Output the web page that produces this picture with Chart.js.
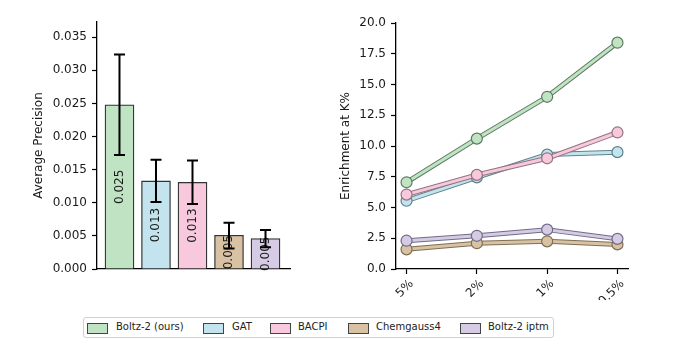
<!DOCTYPE html>
<html>
<head>
<meta charset="utf-8">
<script src="https://cdn.jsdelivr.net/npm/chart.js@4.4.1/dist/chart.umd.min.js"></script>
<style>
    body { margin: 0; background: #fff; width: 693px; height: 351px; overflow: hidden; position: relative; font-family: "DejaVu Sans", sans-serif; }
    #apBox { position: absolute; left: 0; top: 0; width: 300px; height: 300px; }
    #enrBox { position: absolute; left: 320px; top: 0; width: 340px; height: 300px; }
    #legend { position: absolute; left: 83px; top: 317px; width: 469px; height: 19px; border: 1px solid #d0d0d0; border-radius: 3px; }
    .patch { position: absolute; top: 5px; width: 19px; height: 9px; border: 1px solid #444; }
    .lbl { position: absolute; top: 3px; font-size: 10px; color: #222; white-space: nowrap; }
</style>
</head>
<body>
<div id="apBox"><canvas id="apChart" width="300" height="300"></canvas></div>
<div id="enrBox"><canvas id="enrChart" width="340" height="300"></canvas></div>
<div id="legend"></div>
<script>
// methods, shared by both panels
const methods = ['Boltz-2 (ours)', 'GAT', 'BACPI', 'Chemgauss4', 'Boltz-2 iptm'];
const fills = ['#bfe3c3', '#c3e4ee', '#f8c9dd', '#d8c2a3', '#d5cbe5'];
const edges = ['#5f7a63', '#5f828c', '#94737f', '#7f6f55', '#716c86'];

// average precision with error bar bounds
const apMean = [0.0248, 0.0133, 0.0131, 0.0051, 0.0046];
const apLow = [0.0172, 0.0101, 0.0098, 0.0031, 0.0033];
const apHigh = [0.0324, 0.0165, 0.0164, 0.0070, 0.0059];
const apTicks = [0, 0.005, 0.010, 0.015, 0.020, 0.025, 0.030, 0.035];

// enrichment at K%
const kLabels = ['5%', '2%', '1%', '0.5%'];
const enrBoltz = [7.05, 10.6, 14.0, 18.4];
const enrGat = [5.55, 7.45, 9.3, 9.5];
const enrBacpi = [6.05, 7.65, 9.0, 11.1];
const enrChem = [1.6, 2.1, 2.25, 2.0];
const enrIptm = [2.3, 2.7, 3.2, 2.45];
const enrSeries = [enrBoltz, enrGat, enrBacpi, enrChem, enrIptm];

const FONT = { family: 'DejaVu Sans', size: 12 };
const INK = '#1a1a1a';
const EDGE = '#333333';

/// value labels inside the bars, then error bars on top
const barDecor = {
    id: 'barDecor',
    afterDatasetsDraw(chart) {
        const ctx = chart.ctx;
        const xs = chart.scales.x, ys = chart.scales.y;
        ctx.save();
        ctx.font = '12px "DejaVu Sans"';
        ctx.fillStyle = INK;
        ctx.textAlign = 'center';
        ctx.textBaseline = 'middle';
        apMean.forEach((v, i) => {
            const x = xs.getPixelForValue(i);
            const y = (ys.getPixelForValue(v) + ys.getPixelForValue(0)) / 2;
            ctx.save();
            ctx.translate(x, y);
            ctx.rotate(-Math.PI / 2);
            ctx.fillText(v.toFixed(3), 0, 0);
            ctx.restore();
        });
        ctx.strokeStyle = '#000';
        ctx.lineWidth = 2;
        apMean.forEach((v, i) => {
            const x = xs.getPixelForValue(i);
            const y1 = ys.getPixelForValue(apLow[i]);
            const y2 = ys.getPixelForValue(apHigh[i]);
            ctx.beginPath();
            ctx.moveTo(x, y1); ctx.lineTo(x, y2);
            ctx.moveTo(x - 5.5, y1); ctx.lineTo(x + 5.5, y1);
            ctx.moveTo(x - 5.5, y2); ctx.lineTo(x + 5.5, y2);
            ctx.stroke();
        });
        ctx.restore();
    }
};

new Chart(document.getElementById('apChart'), {
    type: 'bar',
    data: {
        datasets: [{
            data: apMean.map((v, i) => ({ x: i, y: v })),
            backgroundColor: fills,
            borderColor: EDGE,
            borderWidth: 1.3,
            barThickness: 29,
        }]
    },
    options: {
        responsive: false,
        animation: false,
        layout: { padding: { top: 22, right: 10, left: 0, bottom: 0 } },
        plugins: { legend: { display: false }, tooltip: { enabled: false } },
        scales: {
            x: {
                type: 'linear',
                offset: false,
                min: -0.616,
                max: 4.671,
                grid: { display: false, offset: false },
                border: { display: true, color: '#000', width: 1.3 },
                ticks: { display: false },
                afterFit: (s) => { s.height = 31; }
            },
            y: {
                min: 0,
                max: 0.0373,
                afterBuildTicks: (s) => { s.ticks = apTicks.map(v => ({ value: v })); },
                ticks: { font: FONT, color: INK, padding: 5, callback: (v) => v.toFixed(3) },
                grid: { drawOnChartArea: false, tickLength: 5, color: '#000', tickWidth: 1.2 },
                border: { display: true, color: '#000', width: 1.3 },
                title: { display: true, text: 'Average Precision', font: FONT, color: INK, padding: { top: 32, bottom: 0 } },
                afterFit: (s) => { s.width = 97; }
            }
        }
    },
    plugins: [barDecor]
});

// each series is drawn twice: a wide darker stroke under a pastel stroke
const enrDatasets = [];
enrSeries.forEach((vals, k) => {
    const pts = vals.map((v, i) => ({ x: i, y: v }));
    enrDatasets.push({
        data: pts,
        borderColor: edges[k],
        borderWidth: 5,
        pointRadius: 0,
        order: 100 - 2 * k,
    });
    enrDatasets.push({
        data: pts,
        borderColor: fills[k],
        borderWidth: 3,
        pointRadius: 5.5,
        pointBackgroundColor: fills[k],
        pointBorderColor: edges[k],
        pointBorderWidth: 1.2,
        order: 99 - 2 * k,
    });
});

new Chart(document.getElementById('enrChart'), {
    type: 'line',
    data: { datasets: enrDatasets },
    options: {
        responsive: false,
        animation: false,
        layout: { padding: { top: 23, right: 32, left: 0, bottom: 0 } },
        plugins: { legend: { display: false }, tooltip: { enabled: false } },
        scales: {
            x: {
                type: 'linear',
                min: -0.15,
                max: 3.15,
                afterBuildTicks: (s) => { s.ticks = kLabels.map((l, i) => ({ value: i })); },
                ticks: { font: FONT, color: INK, padding: 3, labelOffset: 5, maxRotation: 45, minRotation: 45, callback: (v) => kLabels[v] },
                grid: { drawOnChartArea: false, tickLength: 5, color: '#000', tickWidth: 1.2 },
                border: { display: true, color: '#000', width: 1.3 },
                afterFit: (s) => { s.height = 31; }
            },
            y: {
                min: 0,
                max: 20,
                ticks: { stepSize: 2.5, font: FONT, color: INK, padding: 5, callback: (v) => v.toFixed(1) },
                grid: { drawOnChartArea: false, tickLength: 5, color: '#000', tickWidth: 1.2 },
                border: { display: true, color: '#000', width: 1.3 },
                title: { display: true, text: 'Enrichment at K%', font: FONT, color: INK, padding: { top: 19, bottom: 0 } },
                afterFit: (s) => { s.width = 76; }
            }
        }
    }
});

// shared legend under both panels
const legendPos = [[3, 32], [119, 148], [186, 214], [264, 292], [376, 404]];
const legend = document.getElementById('legend');
methods.forEach((name, i) => {
    const p = document.createElement('div');
    p.className = 'patch';
    p.style.left = legendPos[i][0] + 'px';
    p.style.background = fills[i];
    legend.appendChild(p);
    const t = document.createElement('div');
    t.className = 'lbl';
    t.style.left = legendPos[i][1] + 'px';
    t.textContent = name;
    legend.appendChild(t);
});
</script>
</body>
</html>
